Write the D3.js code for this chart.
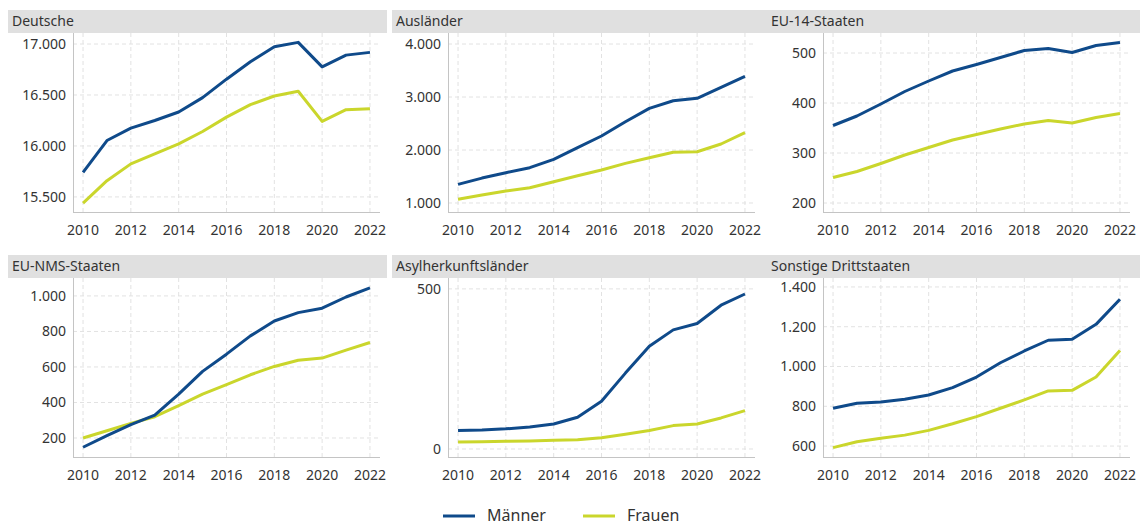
<!DOCTYPE html>
<html lang="de">
<head>
    <meta charset="UTF-8">
    <title>Männer und Frauen nach Staatsangehörigkeit</title>
    <script src="https://d3js.org/d3.v7.min.js"></script>
    <style>
        body {
            margin: 0;
            background: #fff;
            font-family: "Noto Sans", "Open Sans", sans-serif;
        }
        .strip { fill: #e0e0e0; }
        .strip-label { font-size: 14px; fill: #333; }
        .grid line { stroke: #e2e2e2; stroke-dasharray: 4,3; stroke-width: 1px; }
        .axis-line { stroke: #c4c4c4; stroke-width: 1px; }
        .tick-label { font-size: 14px; fill: #333; }
        .legend-label { font-size: 16px; fill: #333; }
    </style>
</head>
<body>
    <svg id="chart" width="1140" height="526"></svg>
    <script>
        // Data
        const years = [2010, 2011, 2012, 2013, 2014, 2015, 2016, 2017, 2018, 2019, 2020, 2021, 2022];
        const panelTitles = ["Deutsche", "Ausländer", "EU-14-Staaten", "EU-NMS-Staaten", "Asylherkunftsländer", "Sonstige Drittstaaten"];
        const seriesNames = ["Männer", "Frauen"];

        const maenner = [
            [15741, 16053, 16175, 16250, 16333, 16474, 16655, 16826, 16974, 17016, 16776, 16891, 16918],
            [1352, 1470, 1572, 1666, 1824, 2044, 2264, 2534, 2786, 2930, 2975, 3183, 3390],
            [355, 374, 398, 423, 444, 464, 477, 491, 505, 509, 501, 515, 521],
            [148, 213, 275, 329, 447, 575, 672, 775, 859, 906, 931, 994, 1045],
            [58, 59, 63, 69, 78, 99, 149, 237, 321, 372, 392, 449, 484],
            [790, 815, 821, 835, 857, 894, 947, 1019, 1078, 1132, 1137, 1212, 1338]
        ];
        const frauen = [
            [15439, 15659, 15824, 15922, 16021, 16142, 16283, 16405, 16490, 16537, 16241, 16356, 16366],
            [1070, 1151, 1226, 1289, 1402, 1515, 1622, 1748, 1855, 1956, 1968, 2113, 2326],
            [251, 263, 279, 296, 311, 326, 337, 348, 358, 365, 360, 371, 379],
            [200, 241, 282, 320, 382, 447, 500, 556, 603, 638, 650, 695, 738],
            [22, 23, 24, 25, 27, 29, 35, 46, 58, 73, 78, 97, 120],
            [592, 622, 639, 655, 679, 712, 748, 790, 832, 877, 880, 947, 1081]
        ];

        // y axis limits and ticks per panel
        const yDomains = [[15352, 17108], [830, 4208], [182, 540], [93, 1101], [-25, 534], [545, 1445]];
        const yTicks = [
            [15500, 16000, 16500, 17000],
            [1000, 2000, 3000, 4000],
            [200, 300, 400, 500],
            [200, 400, 600, 800, 1000],
            [0, 500],
            [600, 800, 1000, 1200, 1400]
        ];
        const xTicks = [2010, 2012, 2014, 2016, 2018, 2020, 2022];

        const colors = ["#0f4a8a", "#cad62c"];

        const de = d3.formatLocale({ decimal: ",", thousands: ".", grouping: [3], currency: ["", " €"] });
        const fmt = de.format(",d");

        const svg = d3.select("#chart");

        // layout
        const stripX = [8, 392, 767];
        const stripW = 379;
        const stripY = [10, 255];
        const stripH = 23;
        const plotLeft = [73, 448, 823];
        const plotW = 307;
        const plotH = 179;

        panelTitles.forEach((title, i) => {
            const col = i % 3, row = Math.floor(i / 3);
            const top = stripY[row] + stripH;
            const left = plotLeft[col];

            const g = svg.append("g");

            g.append("rect")
                .attr("class", "strip")
                .attr("x", stripX[col])
                .attr("y", stripY[row])
                .attr("width", stripW)
                .attr("height", stripH);

            g.append("text")
                .attr("class", "strip-label")
                .attr("x", stripX[col] + 4)
                .attr("y", stripY[row] + stripH / 2)
                .attr("dy", "0.35em")
                .text(title);

            const x = d3.scaleLinear().domain([2009.58, 2022.42]).range([left, left + plotW]);
            const y = d3.scaleLinear().domain(yDomains[i]).range([top + plotH, top]);

            // grid
            const grid = g.append("g").attr("class", "grid");
            grid.selectAll(".vx").data(xTicks).enter().append("line")
                .attr("x1", d => x(d)).attr("x2", d => x(d))
                .attr("y1", top).attr("y2", top + plotH);
            grid.selectAll(".hy").data(yTicks[i]).enter().append("line")
                .attr("x1", left).attr("x2", left + plotW)
                .attr("y1", d => y(d)).attr("y2", d => y(d));

            // axis lines
            g.append("line").attr("class", "axis-line")
                .attr("x1", left + 0.5).attr("x2", left + 0.5)
                .attr("y1", top).attr("y2", top + plotH);
            g.append("line").attr("class", "axis-line")
                .attr("x1", left).attr("x2", left + plotW)
                .attr("y1", top + plotH + 0.5).attr("y2", top + plotH + 0.5);

            // tick labels
            g.selectAll(".ylab").data(yTicks[i]).enter().append("text")
                .attr("class", "tick-label")
                .attr("x", left - 7)
                .attr("y", d => y(d))
                .attr("dy", "0.35em")
                .attr("text-anchor", "end")
                .text(d => fmt(d));
            g.selectAll(".xlab").data(xTicks).enter().append("text")
                .attr("class", "tick-label")
                .attr("x", d => x(d))
                .attr("y", top + plotH + 18)
                .attr("dy", "0.35em")
                .attr("text-anchor", "middle")
                .text(d => d);

            // lines
            const line = d3.line().x((d, j) => x(years[j])).y(d => y(d));
            [frauen[i], maenner[i]].forEach((vals, k) => {
                g.append("path")
                    .datum(vals)
                    .attr("fill", "none")
                    .attr("stroke", colors[1 - k])
                    .attr("stroke-width", 3)
                    .attr("stroke-linejoin", "round")
                    .attr("d", line);
            });
        });

        // legend
        const legendX = [443, 583];
        const legendY = 515;
        const legend = svg.append("g");
        seriesNames.forEach((name, k) => {
            legend.append("line")
                .attr("x1", legendX[k]).attr("x2", legendX[k] + 32)
                .attr("y1", legendY + 1).attr("y2", legendY + 1)
                .attr("stroke", colors[k])
                .attr("stroke-width", 3);
            legend.append("text")
                .attr("class", "legend-label")
                .attr("x", legendX[k] + 44)
                .attr("y", legendY)
                .attr("dy", "0.35em")
                .text(name);
        });
    </script>
</body>
</html>
